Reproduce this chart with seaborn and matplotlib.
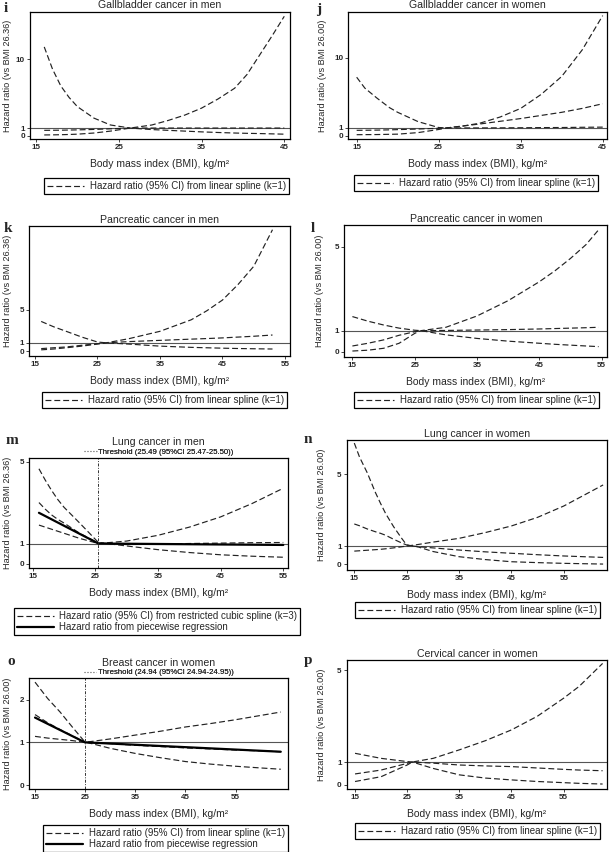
import matplotlib
matplotlib.use("Agg")
import matplotlib.pyplot as plt
import seaborn as sns
from matplotlib.lines import Line2D

W, H = 609, 852

# ---- data (hazard ratios) ----
# i: gallbladder cancer, men
bmi_i = [16, 17, 18, 19, 20, 22, 24, 26.4, 29, 31, 33, 35, 37, 39, 40.5, 42, 43.5, 45]
i_a = [11.6, 8.7, 6.5, 5.0, 3.8, 2.3, 1.4, 1.0, 0.8, 0.7, 0.6, 0.5, 0.42, 0.35, 0.31, 0.28, 0.24, 0.2]
i_b = [0.1, 0.11, 0.13, 0.16, 0.2, 0.35, 0.6, 1.0, 1.4, 2.0, 2.7, 3.6, 4.8, 6.2, 8.0, 10.5, 13.0, 15.6]
i_c = [0.7, 0.71, 0.72, 0.74, 0.76, 0.82, 0.9, 1.0, 1.0, 1.0, 1.0, 1.0, 1.0, 1.0, 1.0, 1.0, 1.0, 1.0]

# j: gallbladder cancer, women
bmi_j = [15, 16, 17.5, 19, 20, 22.5, 25, 26, 28, 30, 32.5, 35, 37.5, 40, 42.5, 45]
j_a = [7.5, 6.1, 4.8, 3.6, 3.0, 1.8, 1.05, 1.0, 1.0, 1.0, 1.01, 1.02, 1.04, 1.05, 1.08, 1.1]
j_b = [0.13, 0.14, 0.15, 0.18, 0.2, 0.4, 0.8, 1.0, 1.25, 1.6, 2.4, 3.5, 5.3, 7.6, 11.0, 15.4]
j_c = [0.69, 0.7, 0.72, 0.75, 0.78, 0.86, 0.95, 1.0, 1.25, 1.5, 1.85, 2.2, 2.6, 3.0, 3.5, 4.1]

# k: pancreatic cancer, men
bmi_k = [16, 18, 20, 22.5, 25, 26.4, 30, 35, 40, 42.5, 45, 47.5, 50, 53]
k_a = [3.6, 2.95, 2.4, 1.7, 1.1, 1.0, 0.85, 0.6, 0.45, 0.4, 0.35, 0.31, 0.28, 0.25]
k_b = [0.15, 0.25, 0.4, 0.6, 0.85, 1.0, 1.5, 2.4, 3.8, 4.9, 6.2, 8.1, 10.3, 14.75]
k_c = [0.3, 0.4, 0.5, 0.7, 0.9, 1.0, 1.15, 1.3, 1.45, 1.52, 1.6, 1.7, 1.8, 1.95]

# l: pancreatic cancer, women
bmi_l = [15, 17.5, 20, 22.5, 25, 26, 30, 35, 40, 45, 47.5, 50, 52.5, 54.5]
l_a = [1.67, 1.45, 1.27, 1.12, 1.02, 1.0, 0.8, 0.63, 0.5, 0.4, 0.35, 0.31, 0.27, 0.24]
l_b = [0.03, 0.07, 0.16, 0.4, 0.87, 1.0, 1.16, 1.7, 2.43, 3.33, 3.85, 4.44, 5.1, 5.8]
l_c = [0.27, 0.4, 0.56, 0.78, 0.95, 1.0, 1.01, 1.03, 1.05, 1.08, 1.1, 1.12, 1.14, 1.16]

# m: lung cancer, men (restricted cubic spline + piecewise)
bmi_m = [16, 17, 18, 19, 20, 22.5, 25.49, 30, 35, 40, 45, 50, 55]
m_a = [4.65, 4.1, 3.6, 3.15, 2.77, 2.0, 1.05, 0.88, 0.7, 0.56, 0.45, 0.38, 0.33]
m_b = [3.0, 2.68, 2.4, 2.18, 2.0, 1.5, 1.02, 0.95, 0.97, 1.0, 1.02, 1.04, 1.05]
m_c = [1.9, 1.8, 1.7, 1.6, 1.5, 1.25, 1.0, 1.12, 1.4, 1.8, 2.3, 2.95, 3.7]
bmi_m_pw = [16, 25.49, 55]
m_pw = [2.5, 1.0, 0.93]
m_threshold = 25.49
m_thr_text = "Threshold (25.49 (95%CI 25.47-25.50))"

# n: lung cancer, women
bmi_n = [15, 16, 17.5, 19, 20, 21, 22.5, 24, 25, 27, 30, 35, 40, 45, 50, 55, 62.5]
n_a = [6.73, 5.95, 5.06, 4.0, 3.38, 2.8, 2.08, 1.45, 1.06, 0.97, 0.7, 0.41, 0.25, 0.13, 0.08, 0.04, 0.0]
n_b = [2.23, 2.13, 1.95, 1.8, 1.71, 1.6, 1.38, 1.18, 1.06, 0.97, 0.9, 0.78, 0.68, 0.6, 0.52, 0.45, 0.37]
n_c = [0.72, 0.74, 0.77, 0.8, 0.82, 0.85, 0.9, 0.96, 1.0, 1.08, 1.22, 1.43, 1.75, 2.12, 2.6, 3.23, 4.4]

# o: breast cancer, women (linear spline + piecewise)
bmi_o = [15, 17.5, 20, 22.5, 24.94, 30, 35, 40, 45, 50, 55, 60, 64]
o_a = [2.41, 2.03, 1.71, 1.35, 1.01, 0.86, 0.74, 0.64, 0.55, 0.49, 0.44, 0.4, 0.37]
o_b = [1.65, 1.46, 1.3, 1.15, 1.0, 0.97, 0.93, 0.9, 0.87, 0.845, 0.82, 0.8, 0.78]
o_c = [1.14, 1.1, 1.07, 1.04, 1.0, 1.08, 1.17, 1.26, 1.36, 1.44, 1.53, 1.63, 1.71]
bmi_o_pw = [15, 24.94, 64]
o_pw = [1.58, 1.0, 0.78]
o_threshold = 24.94
o_thr_text = "Threshold (24.94 (95%CI 24.94-24.95))"

# p: cervical cancer, women
bmi_p = [15, 20, 25, 26, 30, 35, 40, 45, 50, 55, 58, 62.5]
p_a = [1.38, 1.16, 1.02, 1.0, 0.72, 0.44, 0.3, 0.22, 0.15, 0.1, 0.07, 0.04]
p_b = [0.15, 0.36, 0.87, 1.0, 1.16, 1.53, 1.93, 2.4, 3.0, 3.78, 4.3, 5.3]
p_c = [0.48, 0.65, 0.94, 1.0, 0.95, 0.87, 0.83, 0.8, 0.74, 0.68, 0.65, 0.62]

lin_label = "Hazard ratio (95% CI) from linear spline (k=1)"
rcs_label = "Hazard ratio (95% CI) from restricted cubic spline (k=3)"
pw_label = "Hazard ratio from piecewise regression"
ylab_men = "Hazard ratio (vs BMI 26.36)"
ylab_women = "Hazard ratio (vs BMI 26.00)"
xlab = "Body mass index (BMI), kg/m²"

sns.set_theme(style="ticks")
plt.rcParams['font.family'] = ['Liberation Sans', 'DejaVu Sans']

fig = plt.figure(figsize=(W / 100, H / 100), dpi=100)

DASH = (0, (5, 2.5))
CURVE = '#222222'


def draw_panel(box, letter, title, ylabel, x, curves, xlim, ylim, xticks, yticks,
               leg_center, leg_top, leg_label, pw=None, threshold=None, thr_text=None,
               letter_xy=(0, 0, 0)):
    l, t, r, b = box
    ax = fig.add_axes([l / W, 1 - b / H, (r - l) / W, (b - t) / H])
    ax.axhline(1, color='#555555', lw=0.8, zorder=1)
    for ys in curves:
        sns.lineplot(x=x, y=ys, ax=ax, color=CURVE, lw=0.85, linestyle=DASH,
                     estimator=None, sort=False, legend=False)
    if pw is not None:
        sns.lineplot(x=pw[0], y=pw[1], ax=ax, color='black', lw=1.6,
                     estimator=None, sort=False, legend=False)
    if threshold is not None:
        ax.axvline(threshold, color='#333333', lw=0.7, linestyle=(0, (3, 1.5, 1, 1.5)))
        th = ax.legend([Line2D([], [], color='#888888', lw=0.8, linestyle=':')], [thr_text],
                       loc='lower center', bbox_to_anchor=(0.5, 1.0), frameon=False,
                       fontsize=5.6, handlelength=1.6, handletextpad=0.2,
                       borderpad=0.1, borderaxespad=0.15)
        ax.add_artist(th)
        pad = 9.2
    else:
        pad = 2.4
    ax.set_title(title, fontsize=7.6, pad=pad)
    ax.set_xlim(*xlim)
    ax.set_ylim(*ylim)
    ax.set_xticks(xticks)
    ax.set_yticks(yticks)
    ax.tick_params(axis='both', labelsize=5.8, length=2.2, width=0.6, pad=1.5, direction='out')
    for lab in ax.get_xticklabels() + ax.get_yticklabels():
        lab.set_fontweight('bold')
    for s in ax.spines.values():
        s.set_linewidth(0.9)
        s.set_color('black')
    ax.set_xlabel(xlab, fontsize=7.5)
    ax.set_ylabel(ylabel, fontsize=6.6)
    hpx = b - t
    wpx = r - l
    ax.xaxis.set_label_coords(0.5, -20 / hpx)
    ax.xaxis.label.set_va('top')
    ax.yaxis.set_label_coords(-(l - letter_xy[2]) / wpx, 0.5)

    handles = [Line2D([], [], color=CURVE, lw=0.85, linestyle=DASH)]
    labels = [leg_label]
    if pw is not None:
        handles.append(Line2D([], [], color='black', lw=1.6))
        labels.append(pw_label)
    leg = fig.legend(handles, labels, loc='upper center',
                     bbox_to_anchor=(leg_center / W, 1 - leg_top / H),
                     frameon=True, fancybox=False, edgecolor='black', fontsize=7,
                     handlelength=3.8, handletextpad=0.6, borderpad=0.3,
                     labelspacing=0.15, borderaxespad=0, framealpha=1)
    leg.get_frame().set_linewidth(0.9)

    fig.text(letter_xy[0] / W, 1 - letter_xy[1] / H, letter, fontfamily='Liberation Serif',
             fontweight='bold', fontsize=11, va='baseline', ha='left')
    return ax


ticks4 = [15, 25, 35, 45]
ticks5 = [15, 25, 35, 45, 55]

draw_panel((30, 11.7, 290, 139.3), 'i', 'Gallbladder cancer in men', ylab_men,
           bmi_i, [i_a, i_b, i_c], (14.28, 45.69), (-0.47, 16.2), ticks4, [0, 1, 10],
           166.5, 178, lin_label, letter_xy=(4, 12, 12))
draw_panel((348.3, 11.7, 607.3, 139.3), 'j', 'Gallbladder cancer in women', ylab_women,
           bmi_j, [j_a, j_b, j_c], (13.98, 45.56), (-0.46, 15.9), ticks4, [0, 1, 10],
           476, 175, lin_label, letter_xy=(316, 13, 327))
draw_panel((29.3, 226, 290, 356), 'k', 'Pancreatic cancer in men', ylab_men,
           bmi_k, [k_a, k_b, k_c], (14.1, 55.8), (-0.6, 15.2), ticks5, [0, 1, 5],
           164.5, 392, lin_label, letter_xy=(4, 232, 12))
draw_panel((344.3, 225, 607.3, 356.7), 'l', 'Pancreatic cancer in women', ylab_women,
           bmi_l, [l_a, l_b, l_c], (13.7, 55.9), (-0.24, 6.03), ticks5, [0, 1, 5],
           476.5, 392, lin_label, letter_xy=(311, 232, 324))
draw_panel((29.3, 457.7, 288.3, 568.3), 'm', 'Lung cancer in men', ylab_men,
           bmi_m, [m_a, m_b, m_c], (14.46, 55.8), (-0.21, 5.19), ticks5, [0, 1, 5],
           157, 608, rcs_label, pw=(bmi_m_pw, m_pw), threshold=m_threshold,
           thr_text=m_thr_text, letter_xy=(6, 444, 12))
draw_panel((346.7, 440, 607.3, 570), 'n', 'Lung cancer in women', ylab_women,
           bmi_n, [n_a, n_b, n_c], (13.55, 63.3), (-0.33, 6.9), ticks5, [0, 1, 5],
           477.5, 602, lin_label, letter_xy=(304, 443, 326))
draw_panel((29.3, 678.3, 288.3, 789.3), 'o', 'Breast cancer in women', ylab_women,
           bmi_o, [o_a, o_b, o_c], (13.86, 65.5), (-0.1, 2.5), ticks5, [0, 1, 2],
           165.5, 825, lin_label, pw=(bmi_o_pw, o_pw), threshold=o_threshold,
           thr_text=o_thr_text, letter_xy=(7, 665, 12))
draw_panel((346.7, 660, 607.3, 789.3), 'p', 'Cervical cancer in women', ylab_women,
           bmi_p, [p_a, p_b, p_c], (13.4, 63.4), (-0.19, 5.45), ticks5, [0, 1, 5],
           477.5, 823, lin_label, letter_xy=(304, 664, 326))

fig.savefig('out.png', dpi=100)
